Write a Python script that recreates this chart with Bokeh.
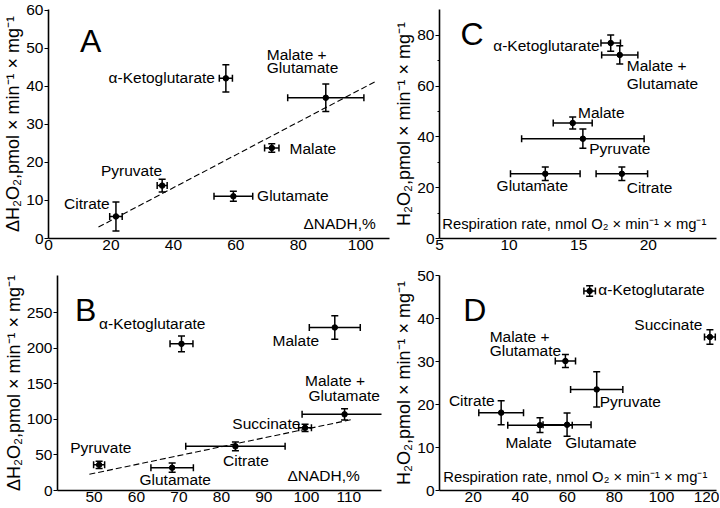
from bokeh.plotting import figure
from bokeh.models import Whisker, TeeHead, ColumnDataSource, FixedTicker, Range1d
from bokeh.layouts import row, column
from bokeh.core.properties import value
from bokeh.embed import file_html
from bokeh.resources import INLINE

FONT = "Liberation Sans"
FS = "15.5px"

# ---------------- Panel A : dH2O2 vs dNADH ----------------
a_names = ["Citrate", "Pyruvate", "α-Ketoglutarate", "Malate + Glutamate", "Malate", "Glutamate"]
a_x = [21.6, 36.4, 56.8, 88.8, 71.5, 59.2]
a_xerr = [2.0, 1.6, 2.1, 12.2, 2.3, 6.2]
a_y = [5.8, 13.9, 42.1, 37.0, 23.8, 11.1]
a_yerr = [3.8, 1.7, 3.6, 3.6, 1.1, 1.3]
a_fit_x = [16, 105]
a_fit_y = [3.0, 41.4]
a_xticks = [0, 20, 40, 60, 80, 100]
a_yticks = [0, 10, 20, 30, 40, 50, 60]

# ---------------- Panel B : dH2O2 vs dNADH ----------------
b_names = ["Pyruvate", "Glutamate", "α-Ketoglutarate", "Citrate", "Succinate", "Malate", "Malate + Glutamate"]
b_x = [51.2, 68.4, 70.6, 83.3, 99.7, 106.7, 109.0]
b_xerr = [1.3, 5.0, 2.7, 11.7, 1.5, 6.0, 10.0]
b_y = [36.0, 32.0, 206.0, 62.0, 88.0, 229.0, 107.0]
b_yerr = [5.0, 6.5, 11.0, 6.0, 5.0, 16.5, 8.0]
b_fit_x = [48.9, 111]
b_fit_y = [22.8, 100]
b_xticks = [50, 60, 70, 80, 90, 100, 110]
b_yticks = [0, 50, 100, 150, 200, 250]

# ---------------- Panel C : H2O2 vs respiration rate ----------------
c_names = ["α-Ketoglutarate", "Malate + Glutamate", "Malate", "Pyruvate", "Glutamate", "Citrate"]
c_x = [17.3, 17.95, 14.57, 15.3, 12.6, 18.1]
c_xerr = [0.7, 1.3, 1.4, 4.4, 2.5, 1.85]
c_y = [77.0, 72.3, 45.5, 39.3, 25.5, 25.5]
c_yerr = [3.2, 3.6, 2.4, 3.8, 2.7, 2.7]
c_xticks = [5, 10, 15, 20]
c_yticks = [0, 20, 40, 60, 80]

# ---------------- Panel D : H2O2 vs respiration rate ----------------
d_names = ["α-Ketoglutarate", "Succinate", "Malate + Glutamate", "Pyruvate", "Citrate", "Malate", "Glutamate"]
d_x = [69.5, 120.6, 59.2, 72.5, 31.9, 48.4, 59.9]
d_xerr = [2.45, 2.3, 4.3, 11.1, 9.5, 13.7, 10.2]
d_y = [46.4, 35.7, 30.1, 23.5, 18.1, 15.2, 15.3]
d_yerr = [1.2, 1.7, 1.5, 4.1, 2.8, 1.7, 2.7]
d_xticks = [20, 40, 60, 80, 100, 120]
d_yticks = [0, 10, 20, 30, 40, 50]

YLAB_D = "ΔH₂O₂,pmol × min⁻¹ × mg⁻¹"
YLAB = "H₂O₂,pmol × min⁻¹ × mg⁻¹"
XLAB_NADH = "ΔNADH,%"
XLAB_RESP = "Respiration rate, nmol O₂ × min⁻¹ × mg⁻¹"

# text annotations: (text, x, y, align)
a_labels = [
    ("α-Ketoglutarate", 53.3, 42.4, "right"),
    ("Malate +", 69.9, 48.3, "left"),
    ("Glutamate", 69.9, 45.0, "left"),
    ("Malate", 77.2, 23.6, "left"),
    ("Pyruvate", 16.8, 17.8, "left"),
    ("Glutamate", 66.8, 11.4, "left"),
    ("Citrate", 19.6, 9.3, "right"),
    (XLAB_NADH, 104.8, 3.9, "right"),
]
b_labels = [
    ("α-Ketoglutarate", 51.2, 234.0, "left"),
    ("Malate", 103.0, 210.0, "right"),
    ("Malate +", 99.7, 154.0, "left"),
    ("Glutamate", 100.5, 133.0, "left"),
    ("Succinate", 98.6, 93.6, "right"),
    ("Citrate", 80.4, 42.3, "left"),
    ("Pyruvate", 44.4, 61.0, "left"),
    ("Glutamate", 60.7, 15.8, "left"),
    (XLAB_NADH, 112.6, 21.4, "right"),
]
c_labels = [
    ("α-Ketoglutarate", 16.5, 76.0, "right"),
    ("Malate +", 18.45, 68.3, "left"),
    ("Glutamate", 18.45, 61.2, "left"),
    ("Malate", 14.95, 49.6, "left"),
    ("Pyruvate", 15.76, 35.4, "left"),
    ("Glutamate", 9.1, 21.0, "left"),
    ("Citrate", 18.45, 20.0, "left"),
]
c_xlabel = (XLAB_RESP, 5.2, 5.8)
d_labels = [
    ("α-Ketoglutarate", 73.2, 46.7, "left"),
    ("Succinate", 117.4, 38.6, "right"),
    ("Malate +", 27.0, 35.9, "left"),
    ("Glutamate", 27.0, 32.6, "left"),
    ("Pyruvate", 73.8, 20.8, "left"),
    ("Citrate", 29.1, 21.0, "right"),
    ("Malate", 33.7, 11.2, "left"),
    ("Glutamate", 59.1, 11.2, "left"),
]
d_xlabel = (XLAB_RESP, 7.3, 3.2)


def panel(w, h, xr, yr, borders, xticks, yticks, ylabel, xs, xerr, ys, yerr,
          labels, letter, letter_xy, fit=None, minor=None, inner_xlabel=None):
    bl, br, bt, bb = borders
    p = figure(width=w, height=h, x_range=Range1d(*xr), y_range=Range1d(*yr),
               output_backend="svg", toolbar_location=None,
               min_border_left=bl, min_border_right=br,
               min_border_top=bt, min_border_bottom=bb)
    p.grid.visible = False
    p.outline_line_color = None
    p.background_fill_color = "white"
    p.border_fill_color = "white"

    xa = p.xaxis[0]
    xa.ticker = FixedTicker(ticks=xticks)
    xa.major_tick_out = 0
    xa.major_tick_in = 0
    xa.minor_tick_out = 0
    xa.minor_tick_in = 0
    xa.major_label_standoff = 1
    xa.axis_line_width = 1.6
    xa.major_label_text_font = FONT
    xa.major_label_text_font_size = FS
    xa.major_label_text_color = "black"

    ya = p.yaxis[0]
    ya.ticker = FixedTicker(ticks=yticks, minor_ticks=minor or [])
    ya.major_tick_out = 4
    ya.major_tick_in = 0
    ya.minor_tick_out = 2
    ya.minor_tick_in = 0
    ya.major_tick_line_width = 1.2
    ya.major_label_standoff = 1
    ya.axis_line_width = 1.6
    ya.major_label_text_font = FONT
    ya.major_label_text_font_size = FS
    ya.major_label_text_color = "black"
    ya.axis_label = ylabel
    ya.axis_label_text_font = FONT
    ya.axis_label_text_font_size = "18px"
    ya.axis_label_text_font_style = "normal"
    ya.axis_label_text_color = "black"
    ya.axis_label_standoff = 0

    if fit is not None:
        p.line(fit[0], fit[1], line_dash="6 3", line_color="black", line_width=1.1)

    src = ColumnDataSource(dict(
        x=xs, y=ys,
        xl=[a - e for a, e in zip(xs, xerr)], xu=[a + e for a, e in zip(xs, xerr)],
        yl=[a - e for a, e in zip(ys, yerr)], yu=[a + e for a, e in zip(ys, yerr)],
    ))
    for dim, base, lo, up in (("height", "x", "yl", "yu"), ("width", "y", "xl", "xu")):
        p.add_layout(Whisker(source=src, base=base, lower=lo, upper=up, dimension=dim,
                             line_color="black", line_width=1.5,
                             lower_head=TeeHead(size=7, line_width=1.5, line_color="black"),
                             upper_head=TeeHead(size=7, line_width=1.5, line_color="black")))
    p.scatter("x", "y", source=src, size=5.5, color="black")

    for txt, tx, ty, al in labels:
        p.text(x=[tx], y=[ty], text=[txt], text_font=value(FONT), text_font_size=FS,
               text_align=al, text_baseline="middle", text_color="black")
    if inner_xlabel is not None:
        txt, tx, ty = inner_xlabel
        p.text(x=[tx], y=[ty], text=[txt], text_font=value(FONT), text_font_size="14.8px",
               text_align="left", text_baseline="middle", text_color="black")
    p.text(x=[letter_xy[0]], y=[letter_xy[1]], text=[letter], text_font=value(FONT),
           text_font_size="32px", text_align="left", text_baseline="middle", text_color="black")
    return p


TOP_H = 257
BOT_H = 250
LEFT_W = 391
RIGHT_W = 328

pA = panel(LEFT_W, TOP_H, (0, 109.2), (0, 60.2), (45, 2, 9, 19), a_xticks, a_yticks, YLAB_D,
           a_x, a_xerr, a_y, a_yerr, a_labels, "A", (10.1, 51.9), fit=(a_fit_x, a_fit_y))
pB = panel(LEFT_W, BOT_H, (41.4, 117.7), (0, 302), (45, 10, 18, 17), b_xticks, b_yticks, YLAB_D,
           b_x, b_xerr, b_y, b_yerr, b_labels, "B", (45.5, 254), fit=(b_fit_x, b_fit_y))
pC = panel(RIGHT_W, TOP_H, (5, 24.9), (0, 90.2), (46, 3, 5, 19), c_xticks, c_yticks, YLAB,
           c_x, c_xerr, c_y, c_yerr, c_labels, "C", (6.5, 80.6), minor=[10, 30, 50, 70],
           inner_xlabel=c_xlabel)
pD = panel(RIGHT_W, BOT_H, (5.7, 123.4), (0, 50), (45, 3, 18, 17), d_xticks, d_yticks, YLAB,
           d_x, d_xerr, d_y, d_yerr, d_labels, "D", (15.8, 42.0), inner_xlabel=d_xlabel)

layout = column(row(pA, pC), row(pB, pD))
open("out.html", "w").write(file_html(layout, INLINE))
